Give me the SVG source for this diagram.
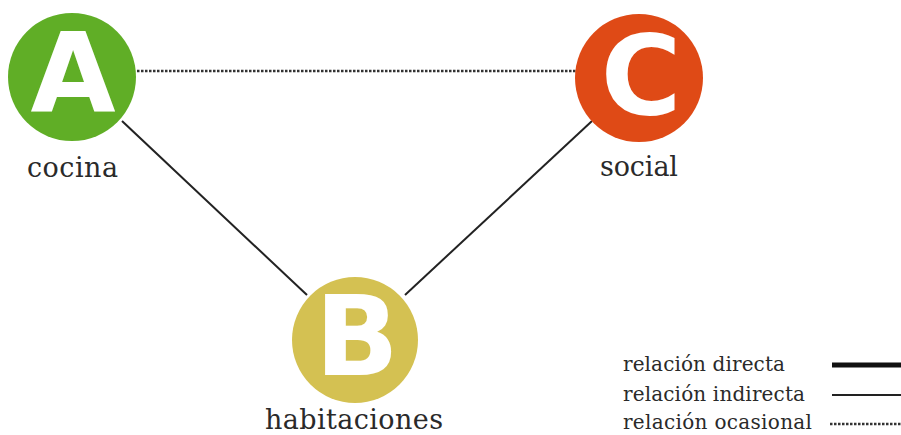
<svg xmlns="http://www.w3.org/2000/svg" width="901" height="435" viewBox="0 0 901 435">
<style>
.lbl{font-family:"DejaVu Serif","Liberation Serif",serif;fill:#2a2a2a;}
.big{font-size:27px;}
.leg{font-size:20px;}
.letter{font-family:"DejaVu Sans","Liberation Sans",sans-serif;font-weight:bold;font-size:110px;fill:#fff;text-anchor:middle;}
.ln{stroke:#222;stroke-width:2;fill:none;}
.dot{stroke:#333;stroke-width:2.5;stroke-dasharray:2.5 1.5;fill:none;}
</style>
<rect width="901" height="435" fill="#fff"/>
<g id="connectors">
<line class="dot" x1="137" y1="71" x2="576" y2="71"/>
<line class="ln" x1="122" y1="121" x2="307" y2="295"/>
<line class="ln" x1="592" y1="121" x2="405" y2="295"/>
</g>
<g id="nodeA">
<circle cx="72" cy="77" r="64" fill="#60ae26"/>
<text class="letter" x="73" y="112">A</text>
<text class="lbl big" x="27" y="177" textLength="91">cocina</text>
</g>
<g id="nodeC">
<circle cx="639" cy="78" r="64" fill="#df4a16"/>
<text class="letter" x="641" y="114">C</text>
<text class="lbl big" x="600" y="176" textLength="78">social</text>
</g>
<g id="nodeB">
<circle cx="355" cy="340" r="63" fill="#d4c152"/>
<text class="letter" x="357" y="375">B</text>
<text class="lbl big" x="265" y="429" textLength="178">habitaciones</text>
</g>
<g id="legend">
<text class="lbl leg" x="623" y="371" textLength="162">relación directa</text>
<text class="lbl leg" x="623" y="401" textLength="182">relación indirecta</text>
<text class="lbl leg" x="623" y="429" textLength="189">relación ocasional</text>
<line x1="832" y1="365" x2="901" y2="365" stroke="#111" stroke-width="5"/>
<line class="ln" x1="832" y1="395" x2="901" y2="395"/>
<line class="dot" x1="830" y1="424" x2="901" y2="424" stroke-width="2"/>
</g>
</svg>
